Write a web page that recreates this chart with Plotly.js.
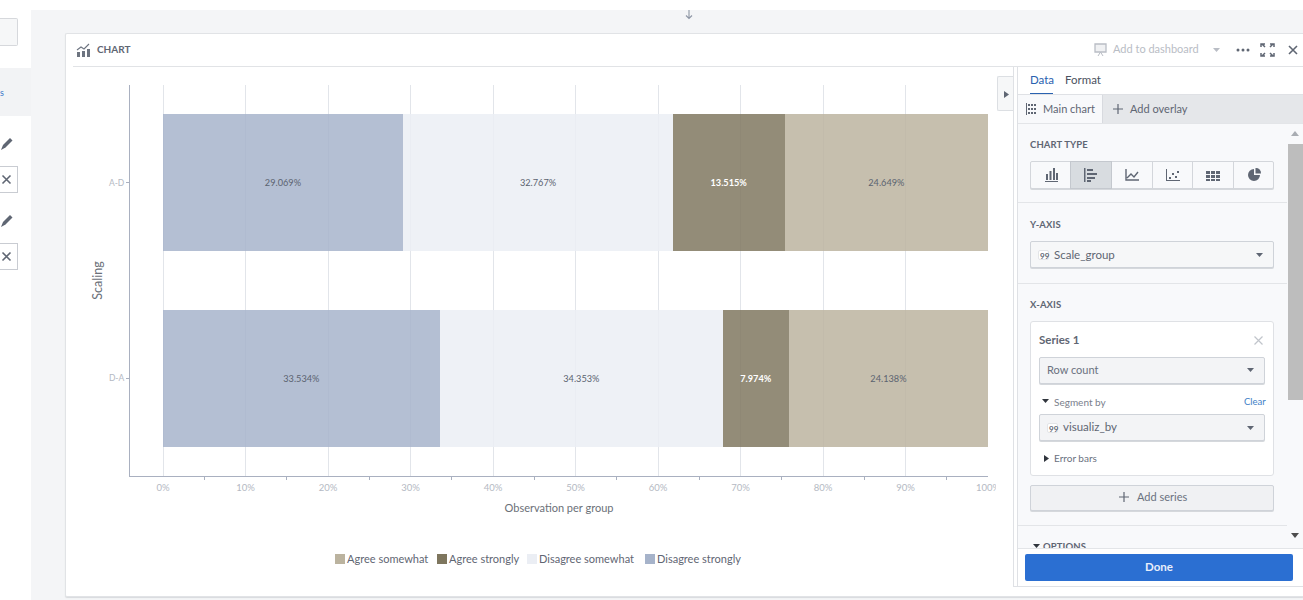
<!DOCTYPE html>
<html>
<head>
<meta charset="utf-8">
<title>Chart</title>
<script src="https://cdn.plot.ly/plotly-3.0.1.min.js"></script>
<style>
  html, body { margin: 0; padding: 0; background: #fff; }
  body { width: 1303px; height: 600px; overflow: hidden; position: relative;
         font-family: Lato, "Noto Sans", sans-serif; color: #5c6470; }
  .a { position: absolute; box-sizing: border-box; }
  .t { position: absolute; white-space: nowrap; line-height: 14px; }
  .lbl { font-size: 9.5px; font-weight: 700; color: #5f6673; letter-spacing: .1px; }
  .sel { border: 1px solid #cfd3d9; border-radius: 2px; box-shadow: 0 1px 0 #d5d8dc; }
  svg.i { position: absolute; overflow: visible; }
</style>
</head>
<body>
<!-- application shell -->
<div class="a" style="left:0;top:18px;width:18px;height:28px;background:#f6f7f8;border:1px solid #d6d8dc;border-left:0;border-radius:0 2px 2px 0"></div>
<div class="a" style="left:0;top:68px;width:31px;height:48px;background:#f2f3f5"></div>
<div class="t" style="left:0;top:86px;font-size:9px;color:#3b78c9">s</div>
<div class="a" style="left:0;top:166px;width:18px;height:27px;border:1px solid #c9ccd2;border-left:0"></div>
<div class="a" style="left:0;top:243px;width:18px;height:27px;border:1px solid #c9ccd2;border-left:0"></div>
<svg class="i" style="left:0;top:136px" width="14" height="16"><path d="M1 14l2-5 7-7 2.500 2.500-7 7z" fill="#5f6673"/></svg>
<svg class="i" style="left:0;top:213px" width="14" height="16"><path d="M1 14l2-5 7-7 2.500 2.500-7 7z" fill="#5f6673"/></svg>
<svg class="i" style="left:2px;top:175px" width="9" height="9"><path d="M0.500 0.500l8 8M8.500 0.500l-8 8" stroke="#5f6673" stroke-width="1.600"/></svg>
<svg class="i" style="left:2px;top:252px" width="9" height="9"><path d="M0.500 0.500l8 8M8.500 0.500l-8 8" stroke="#5f6673" stroke-width="1.600"/></svg>

<div class="a" style="left:31px;top:10px;width:1272px;height:590px;background:#f4f5f7"></div>
<svg class="i" style="left:684px;top:10px" width="10" height="10"><path d="M5 0v8M2 5.500l3 3 3-3" stroke="#8e96a5" fill="none" stroke-width="1.100"/></svg>

<!-- chart card -->
<div class="a" style="left:65px;top:33px;width:1238px;height:564px;background:#fff;border:1px solid #e1e3e6;border-right:0;border-radius:2px 0 0 2px;box-shadow:0 1px 1px #d8dadd"></div>
<div class="a" style="left:73px;top:66px;width:1230px;height:1px;background:#e1e3e6"></div>
<svg class="i" style="left:77px;top:43px" width="14" height="15"><path d="M0 9h3v5H0zM5 8h3v6H5zM10 6h3v8h-3z" fill="#6d7480"/><path d="M0 7l4-3 3 2 5-5" stroke="#6d7480" fill="none" stroke-width="1.100"/></svg>
<div class="t" style="left:97px;top:42px;font-size:10px;font-weight:700;color:#5f6673">CHART</div>
<svg class="i" style="left:1094px;top:43px" width="13" height="14"><path d="M1 1h11v8H1z" stroke="#b9bdc5" fill="#f0f1f3" stroke-width="1.300"/><path d="M4 13l2.500-4 2.500 4" stroke="#b9bdc5" fill="none"/></svg>
<div class="t" style="left:1113px;top:42px;font-size:11px;color:#b9bdc5">Add to dashboard</div>
<svg class="i" style="left:1213px;top:48px" width="7" height="5"><path d="M0 0h7L3.500 4z" fill="#b9bdc5"/></svg>
<svg class="i" style="left:1236px;top:48px" width="14" height="4"><circle cx="2" cy="2" r="1.500" fill="#5f6673"/><circle cx="7" cy="2" r="1.500" fill="#5f6673"/><circle cx="12" cy="2" r="1.500" fill="#5f6673"/></svg>
<svg class="i" style="left:1261px;top:43px" width="13" height="14" fill="none" stroke="#5f6673" stroke-width="1.500"><path d="M0 4V1h4M9 1h4v3M0 10v3h4M9 13h4v-3M1 1l3 3M12 1l-3 3M1 13l3-3M12 13l-3-3"/></svg>
<svg class="i" style="left:1288px;top:45px" width="10" height="10"><path d="M1 1l8 8M9 1l-8 8" stroke="#5f6673" stroke-width="1.600"/></svg>

<!-- chart canvas: runs under the panel toggle, cut off at its left edge -->
<div class="a" style="left:66px;top:68px;width:930px;height:522px;overflow:hidden">
  <div id="chart" style="width:970px;height:522px"></div>
</div>

<!-- collapse toggle -->
<div class="a" style="left:997px;top:76px;width:17px;height:35px;background:#f6f7f8;border:1px solid #dcdfe3;border-right:0;border-radius:2px 0 0 2px"></div>
<svg class="i" style="left:1004px;top:91px" width="5" height="7"><path d="M0 0l5 3.500L0 7z" fill="#5f6673"/></svg>

<!-- configuration panel -->
<div class="a" style="left:1013px;top:67px;width:1px;height:519px;background:#dfe1e5"></div>
<div class="a" style="left:1017px;top:67px;width:1px;height:519px;background:#dfe1e5"></div>
<div class="a" style="left:1018px;top:67px;width:285px;height:519px;background:#fff"></div>
<div class="a" style="left:1013px;top:586px;width:290px;height:1px;background:#dfe1e5"></div>
<div class="t" style="left:1030px;top:73px;font-size:11.500px;color:#2a62b0">Data</div>
<div class="t" style="left:1065px;top:73px;font-size:11.500px;color:#4b5260">Format</div>
<div class="a" style="left:1030px;top:93px;width:23px;height:2px;background:#2a62b0"></div>
<div class="a" style="left:1018px;top:94px;width:285px;height:1px;background:#dfe1e5"></div>
<div class="a" style="left:1018px;top:95px;width:84px;height:28px;background:#f8f9fb"></div>
<div class="a" style="left:1102px;top:95px;width:201px;height:28px;background:#e5e7ea;border-left:1px solid #d8dadf"></div>
<svg class="i" style="left:1026px;top:103px" width="12" height="12" fill="#5f6673"><path d="M0 0h1v12H0zM2 1h2v2H2zM5 1h2v2H5zM8 1h2v2H8zM2 5h2v2H2zM5 5h2v2H5zM8 5h2v2H8zM2 9h2v2H2zM5 9h2v2H5zM8 9h2v2H8z"/></svg>
<div class="t" style="left:1043px;top:102px;font-size:11px;color:#5f6673">Main chart</div>
<svg class="i" style="left:1113px;top:104px" width="10" height="10"><path d="M5 0v10M0 5h10" stroke="#5f6673" stroke-width="1.200"/></svg>
<div class="t" style="left:1130px;top:102px;font-size:11px;color:#5f6673">Add overlay</div>

<div class="a" style="left:1018px;top:123px;width:285px;height:425px;background:#f8f9fb;border-top:1px solid #e3e5e8"></div>
<svg class="i" style="left:1291px;top:131px" width="8" height="5"><path d="M0 5l4-5 4 5z" fill="#a9adb3"/></svg>
<div class="a" style="left:1288px;top:144px;width:15px;height:256px;background:#bdbdbd"></div>
<svg class="i" style="left:1291px;top:533px" width="8" height="5"><path d="M0 0h8L4 5z" fill="#4d4d4d"/></svg>

<div class="t lbl" style="left:1030px;top:138px">CHART TYPE</div>
<div id="types" class="a" style="left:1030px;top:161px;width:244px;height:28px;border:1px solid #d3d6db;border-radius:2px;box-shadow:0 1px 0 #d5d8dc;background:#f8f9fb"></div>
<div class="a" style="left:1070px;top:161px;width:42px;height:28px;background:#d8dce0;border:1px solid #c4c8ce"></div>
<div class="a" style="left:1152px;top:161px;width:1px;height:28px;background:#d3d6db"></div>
<div class="a" style="left:1192px;top:161px;width:1px;height:28px;background:#d3d6db"></div>
<div class="a" style="left:1233px;top:161px;width:1px;height:28px;background:#d3d6db"></div>
<svg class="i" style="left:1045px;top:168px" width="13" height="14" fill="#5f6673"><path d="M1 6h2v6H1zM4.500 3h2v9h-2zM8 0h2v12H8zM11 5h2v7h-2zM0 13h13v1H0z"/></svg>
<svg class="i" style="left:1084px;top:168px" width="14" height="14" fill="#5f6673"><path d="M0 0h1.500v14H0zM3 1h6v2H3zM3 5h10v2H3zM3 9h8v2H3zM3 12h4v2H3z"/></svg>
<svg class="i" style="left:1125px;top:169px" width="14" height="12" fill="none" stroke="#5f6673" stroke-width="1.400"><path d="M1 0v11h13M2 9l4-4 3 3 4-5"/></svg>
<svg class="i" style="left:1166px;top:169px" width="14" height="12" fill="#5f6673"><path d="M0 0h1v11h13v1H0z"/><path d="M3 8h2v2H3zM6 4h2v2H6zM9 7h2v2H9zM11 2h2v2h-2z"/></svg>
<svg class="i" style="left:1206px;top:171px" width="14" height="10" fill="#5f6673"><path d="M0 0h4v3H0zM5 0h4v3H5zM10 0h4v3h-4zM0 4h4v3H0zM5 4h4v3H5zM10 4h4v3h-4zM0 8h4v2H0zM5 8h4v2H5zM10 8h4v2h-4z"/></svg>
<svg class="i" style="left:1247px;top:168px" width="14" height="14"><path d="M7 1a6 6 0 1 0 6 6H7z" fill="#5f6673"/><path d="M8.500 0A5 5 0 0 1 14 5.500H8.500z" fill="#5f6673"/></svg>
<div class="a" style="left:1018px;top:202px;width:269px;height:1px;background:#e3e5e8"></div>

<div class="t lbl" style="left:1030px;top:218px">Y-AXIS</div>
<div class="a sel" style="left:1030px;top:241px;width:244px;height:27px;background:#f6f7f8"></div>
<div class="a" style="left:1038px;top:250px;width:11px;height:10px;background:#fff;border:1px solid #e3e5e8;border-radius:2px"></div>
<div class="t" style="left:1040px;top:249px;font-size:8px;font-weight:700;color:#5f6673">99</div>
<div class="t" style="left:1054px;top:248px;font-size:11.500px;color:#5f6673">Scale_group</div>
<svg class="i" style="left:1256px;top:253px" width="7" height="5"><path d="M0 0h7L3.500 4z" fill="#5f6673"/></svg>
<div class="a" style="left:1018px;top:283px;width:269px;height:1px;background:#e3e5e8"></div>

<div class="t lbl" style="left:1030px;top:298px">X-AXIS</div>
<div class="a" style="left:1030px;top:321px;width:244px;height:155px;background:#fff;border:1px solid #dfe1e5;border-radius:3px"></div>
<div class="t" style="left:1039px;top:333px;font-size:11.500px;font-weight:700;color:#5f6673">Series 1</div>
<svg class="i" style="left:1254px;top:336px" width="9" height="9"><path d="M0.500 0.500l8 8M8.500 0.500l-8 8" stroke="#c1c5cb" stroke-width="1.200"/></svg>
<div class="a sel" style="left:1039px;top:357px;width:226px;height:27px;background:#f3f4f6"></div>
<div class="t" style="left:1047px;top:363px;font-size:11px;color:#6a7180">Row count</div>
<svg class="i" style="left:1247px;top:368px" width="7" height="5"><path d="M0 0h7L3.500 4z" fill="#5f6673"/></svg>
<svg class="i" style="left:1042px;top:399px" width="7" height="5"><path d="M0 0h7L3.500 4z" fill="#30353d"/></svg>
<div class="t" style="left:1054px;top:395px;font-size:10px;color:#7a808c">Segment by</div>
<div class="t" style="left:1244px;top:395px;font-size:9.500px;color:#3f7fc7">Clear</div>
<div class="a sel" style="left:1039px;top:414px;width:226px;height:27px;background:#f3f4f6"></div>
<div class="a" style="left:1047px;top:423px;width:11px;height:10px;background:#fff;border:1px solid #e3e5e8;border-radius:2px"></div>
<div class="t" style="left:1049px;top:422px;font-size:8px;font-weight:700;color:#5f6673">99</div>
<div class="t" style="left:1063px;top:420px;font-size:11.500px;color:#5f6673">visualiz_by</div>
<svg class="i" style="left:1247px;top:426px" width="7" height="5"><path d="M0 0h7L3.500 4z" fill="#5f6673"/></svg>
<svg class="i" style="left:1044px;top:455px" width="5" height="7"><path d="M0 0l5 3.500L0 7z" fill="#30353d"/></svg>
<div class="t" style="left:1054px;top:451px;font-size:10px;color:#6a7180">Error bars</div>
<div class="a sel" style="left:1030px;top:485px;width:244px;height:26px;background:#f0f1f3"></div>
<svg class="i" style="left:1119px;top:492px" width="10" height="10"><path d="M5 0v10M0 5h10" stroke="#5f6673" stroke-width="1.200"/></svg>
<div class="t" style="left:1137px;top:490px;font-size:11px;color:#6a7180">Add series</div>
<div class="a" style="left:1018px;top:525px;width:269px;height:1px;background:#e3e5e8"></div>
<svg class="i" style="left:1033px;top:544px" width="7" height="4"><path d="M0 0h7L3.500 4z" fill="#30353d"/></svg>
<div class="t lbl" style="left:1043px;top:540px">OPTIONS</div>

<div class="a" style="left:1018px;top:548px;width:285px;height:38px;background:#fff;border-top:1px solid #e3e5e8"></div>
<div class="a" style="left:1025px;top:554px;width:268px;height:27px;background:#2b6fd2;border-radius:2px"></div>
<div class="t" style="left:1025px;top:560px;width:268px;text-align:center;font-size:11.500px;font-weight:700;color:#e8eefb">Done</div>

<script>
// Share of observations per answer, as a percentage of each scale group.
const scaleGroups = ['A-D', 'D-A'];
const answerNames = ['Disagree strongly', 'Disagree somewhat', 'Agree strongly', 'Agree somewhat'];
const disagreeStrongly = [29.069, 33.534];
const disagreeSomewhat = [32.767, 34.353];
const agreeStrongly = [13.515, 7.974];
const agreeSomewhat = [24.649, 24.138];
const answerColors = ['#a6b3ca', '#ebeef4', '#7e765e', '#bbb39f'];
const percentTicks = [0, 10, 20, 30, 40, 50, 60, 70, 80, 90, 100];
const minorPercentTicks = [5, 15, 25, 35, 45, 55, 65, 75, 85, 95];

const answerValues = [disagreeStrongly, disagreeSomewhat, agreeStrongly, agreeSomewhat];
const labelColors = ['#5b6370', '#5b6370', '#ffffff', '#5b6370'];

const traces = answerNames.map((name, i) => ({
  type: 'bar',
  orientation: 'h',
  name: name,
  y: scaleGroups,
  x: answerValues[i],
  text: answerValues[i].map(v => v.toFixed(3) + '%'),
  textposition: 'inside',
  insidetextanchor: 'middle',
  textangle: 0,
  constraintext: 'none',
  textfont: { family: 'Lato, "Noto Sans", sans-serif', size: 9.2, color: labelColors[i],
              weight: i === 2 ? 700 : 400 },
  marker: { color: answerColors[i], opacity: 0.84, line: { width: 0 } },
  hovertemplate: '%{y}: %{text}<extra>' + name + '</extra>'
}));

const layout = {
  width: 970,
  height: 522,
  margin: { l: 64, r: 48, t: 17, b: 114 },
  paper_bgcolor: '#ffffff',
  plot_bgcolor: '#ffffff',
  font: { family: 'Lato, "Noto Sans", sans-serif', color: '#6b7078' },
  barmode: 'stack',
  bargap: 0.3,
  showlegend: true,
  legend: {
    orientation: 'h',
    traceorder: 'reversed',
    x: 0.5,
    xanchor: 'center',
    y: 0.5,
    yanchor: 'middle',
    font: { size: 11, color: '#5f6673' }
  },
  xaxis: {
    range: [-4, 100],
    tickmode: 'array',
    tickvals: percentTicks,
    ticktext: percentTicks.map(v => v + '%'),
    ticks: 'outside',
    ticklen: 3,
    tickcolor: 'rgba(0,0,0,0)',
    tickfont: { size: 9.5, color: '#b4b9c3' },
    showgrid: true,
    gridcolor: '#e2e5ea',
    gridwidth: 1,
    zeroline: false,
    showline: true,
    linecolor: '#a9b0c0',
    linewidth: 1,
    minor: { tickvals: minorPercentTicks, ticks: 'outside', ticklen: 3,
             tickcolor: '#a9b0c0', showgrid: false },
    title: { text: 'Observation per group', standoff: 11,
             font: { size: 11, color: '#6b7078' } }
  },
  yaxis: {
    type: 'category',
    categoryorder: 'array',
    categoryarray: scaleGroups,
    range: [1.5, -0.5],
    ticks: 'outside',
    ticklen: 3,
    tickcolor: '#a9b0c0',
    tickfont: { size: 8.5, color: '#b4b9c3' },
    showgrid: false,
    zeroline: false,
    showline: true,
    linecolor: '#a9b0c0',
    linewidth: 1,
    title: { text: 'Scaling', standoff: 3, font: { size: 12.5, color: '#6b7078' } }
  }
};

Plotly.newPlot('chart', traces, layout, { displayModeBar: false }).then(() => {
  // Compact legend below the axis: small square swatches tight against their labels, in full colour.
  const swatchLeft = [269, 371, 461, 579];
  document.querySelectorAll('#chart .legend .traces').forEach((row, i) => {
    row.setAttribute('transform', 'translate(' + swatchLeft[i] + ',0)');
    row.querySelectorAll('.legendpoints path').forEach(p => {
      p.setAttribute('d', 'M0,-5H10V5H0Z');
      p.style.opacity = 1;
      p.style.fillOpacity = 1;
      p.removeAttribute('transform');
    });
    const label = row.querySelector('.legendtext');
    if (label) label.setAttribute('x', 12);
  });
  const legend = document.querySelector('#chart .legend');
  legend.setAttribute('transform', 'translate(0,491)');
  legend.querySelector('.bg').style.display = 'none';
  legend.querySelector('.scrollbox').removeAttribute('clip-path');
});
</script>
</body>
</html>
